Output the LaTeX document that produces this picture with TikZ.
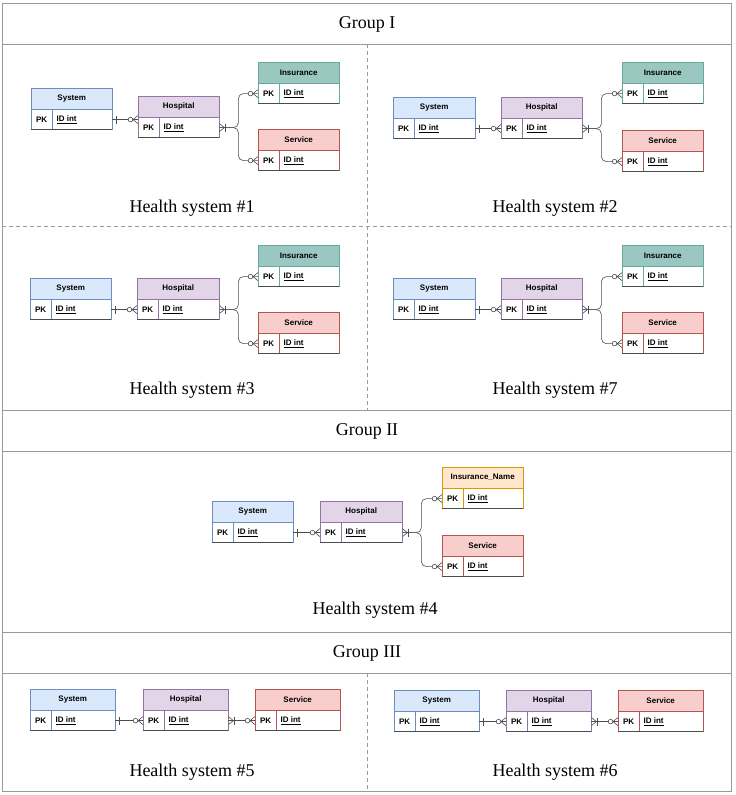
\documentclass[tikz,border=0pt]{standalone}
\usepackage{fontspec}
\setmainfont{Liberation Serif}
\newfontfamily\erfont{Liberation Sans}
\usetikzlibrary{calc}

\definecolor{sysF}{HTML}{DAE8FC}\definecolor{sysD}{HTML}{6C8EBF}
\definecolor{hosF}{HTML}{E1D5E7}\definecolor{hosD}{HTML}{9673A6}
\definecolor{insF}{HTML}{9AC7BF}\definecolor{insD}{HTML}{67AB9F}
\definecolor{srvF}{HTML}{F8CECC}\definecolor{srvD}{HTML}{B85450}
\definecolor{innF}{HTML}{FFE6CC}\definecolor{innD}{HTML}{D79B00}
\definecolor{gridc}{HTML}{9A9A9A}

\tikzset{
  erf/.style={font=\erfont\bfseries\fontsize{8}{9}\selectfont},
  ehead/.style={erf, draw, rectangle, minimum height=21pt, inner sep=0pt, anchor=north west},
  erow/.style={draw, fill=white, minimum height=20pt, inner sep=0pt, anchor=north west},
  pkcell/.style={erf, minimum width=21pt, minimum height=20pt, inner sep=0pt, anchor=west},
  idcell/.style={erf, inner sep=0pt, anchor=west},
  rel/.style={draw=black!70, line width=0.6pt},
  grid/.style={draw=gridc, line width=1pt},
  dgrid/.style={draw=gridc, line width=0.8pt, dash pattern=on 4pt off 3pt},
  caption/.style={font=\fontsize{18}{20}\selectfont},
  pics/entity/.style n args={3}{code={
    \node[ehead, fill=#3F, draw=#3D, minimum width=#2pt] (-h) at (0,0) {#1};
    \node[erow, draw=#3D, minimum width=#2pt] (-r) at (-h.south west) {};
    \node[pkcell] (-pk) at (-r.west) {PK};
    \node[idcell, xshift=4pt] (-id) at (-pk.east) {\underline{ID int}};
    \draw[draw=#3D] (-pk.north east) -- (-pk.south east);
    \draw[gray!60!black, line width=0.8pt] (-r.south west) -- (-r.south east);
  }},
  pics/one/.style={code={\draw[rel] (-4,-4) -- (-4,4);}},
  pics/zmany/.style={code={
    \draw[rel] (0,-4) -- (-5,0) -- (0,4);
    \draw[rel, fill=white] (-7.5,0) circle (2.3pt);
  }},
  pics/omany/.style={code={
    \draw[rel] (0,-4) -- (-5,0) -- (0,4);
    \draw[rel] (-6,-4) -- (-6,4);
  }}
}

\begin{document}
\begin{tikzpicture}[x=1pt, y=-1pt]
\useasboundingbox (0,0) rectangle (736,795);

% table
\draw[grid] (2,3) rectangle (731,791);
\draw[grid] (2,44) -- (731,44);
\draw[grid] (2,410) -- (731,410);
\draw[grid] (2,451) -- (731,451);
\draw[grid] (2,632) -- (731,632);
\draw[grid] (2,673) -- (731,673);
\draw[dgrid] (2,226) -- (731,226);
\draw[dgrid] (367,44) -- (367,410);
\draw[dgrid] (367,673) -- (367,791);

\node[caption] (g1) at (367,24) {Group I};
\node[caption] (g2) at (367,431) {Group II};
\node[caption] (g3) at (367,653) {Group III};

% health system 1
\pic (s1) at (31,88) {entity={System}{81}{sys}};
\pic (h1) at (138,96) {entity={Hospital}{81}{hos}};
\pic (i1) at (258,62) {entity={Insurance}{81}{ins}};
\pic (sv1) at (258,129) {entity={Service}{81}{srv}};
\node[caption] (c1) at (192,208) {Health system \#1};

% health system 2
\pic (s2) at (393,97) {entity={System}{82}{sys}};
\pic (h2) at (501,97) {entity={Hospital}{81}{hos}};
\pic (i2) at (622,62) {entity={Insurance}{81}{ins}};
\pic (sv2) at (622,130) {entity={Service}{81}{srv}};
\node[caption] (c2) at (555,208) {Health system \#2};

% health system 3
\pic (s3) at (30,278) {entity={System}{81}{sys}};
\pic (h3) at (137,278) {entity={Hospital}{82}{hos}};
\pic (i3) at (258,245) {entity={Insurance}{81}{ins}};
\pic (sv3) at (258,312) {entity={Service}{81}{srv}};
\node[caption] (c3) at (192,390) {Health system \#3};

% health system 7
\pic (s7) at (393,278) {entity={System}{82}{sys}};
\pic (h7) at (501,278) {entity={Hospital}{81}{hos}};
\pic (i7) at (622,245) {entity={Insurance}{81}{ins}};
\pic (sv7) at (622,312) {entity={Service}{81}{srv}};
\node[caption] (c7) at (555,390) {Health system \#7};

% health system 4
\pic (s4) at (212,501) {entity={System}{81}{sys}};
\pic (h4) at (320,501) {entity={Hospital}{82}{hos}};
\pic (i4) at (442,467) {entity={Insurance\_Name}{81}{inn}};
\pic (sv4) at (442,535) {entity={Service}{81}{srv}};
\node[caption] (c4) at (375,610) {Health system \#4};

% health system 5 and 6
\pic (s5) at (30,689) {entity={System}{85}{sys}};
\pic (h5) at (143,689) {entity={Hospital}{85}{hos}};
\pic (sv5) at (255,689) {entity={Service}{85}{srv}};
\node[caption] (c5) at (192,772) {Health system \#5};

\pic (s6) at (394,690) {entity={System}{85}{sys}};
\pic (h6) at (506,690) {entity={Hospital}{85}{hos}};
\pic (sv6) at (618,690) {entity={Service}{85}{srv}};
\node[caption] (c6) at (555,772) {Health system \#6};

\begin{scope}[rel]
\draw (s1-r.east) -- (s1-r.east -| h1-r.west);
\coordinate (h1-j) at ([xshift=19pt]h1-r.east);
\draw[rounded corners=5pt] (h1-r.east) -- (h1-j) |- (i1-r.west);
\draw[rounded corners=5pt] (h1-r.east) -- (h1-j) |- (sv1-r.west);
\pic[rotate=180] at (s1-r.east) {one};
\pic at (s1-r.east -| h1-r.west) {zmany};
\pic[rotate=180] at (h1-r.east) {omany};
\pic at (i1-r.west) {zmany};
\pic at (sv1-r.west) {zmany};

\draw (s2-r.east) -- (h2-r.west);
\coordinate (h2-j) at ([xshift=19pt]h2-r.east);
\draw[rounded corners=5pt] (h2-r.east) -- (h2-j) |- (i2-r.west);
\draw[rounded corners=5pt] (h2-r.east) -- (h2-j) |- (sv2-r.west);
\pic[rotate=180] at (s2-r.east) {one};
\pic at (h2-r.west) {zmany};
\pic[rotate=180] at (h2-r.east) {omany};
\pic at (i2-r.west) {zmany};
\pic at (sv2-r.west) {zmany};

\draw (s3-r.east) -- (h3-r.west);
\coordinate (h3-j) at ([xshift=19pt]h3-r.east);
\draw[rounded corners=5pt] (h3-r.east) -- (h3-j) |- (i3-r.west);
\draw[rounded corners=5pt] (h3-r.east) -- (h3-j) |- (sv3-r.west);
\pic[rotate=180] at (s3-r.east) {one};
\pic at (h3-r.west) {zmany};
\pic[rotate=180] at (h3-r.east) {omany};
\pic at (i3-r.west) {zmany};
\pic at (sv3-r.west) {zmany};

\draw (s7-r.east) -- (h7-r.west);
\coordinate (h7-j) at ([xshift=19pt]h7-r.east);
\draw[rounded corners=5pt] (h7-r.east) -- (h7-j) |- (i7-r.west);
\draw[rounded corners=5pt] (h7-r.east) -- (h7-j) |- (sv7-r.west);
\pic[rotate=180] at (s7-r.east) {one};
\pic at (h7-r.west) {zmany};
\pic[rotate=180] at (h7-r.east) {omany};
\pic at (i7-r.west) {zmany};
\pic at (sv7-r.west) {zmany};

\draw (s4-r.east) -- (h4-r.west);
\coordinate (h4-j) at ([xshift=19pt]h4-r.east);
\draw[rounded corners=5pt] (h4-r.east) -- (h4-j) |- (i4-r.west);
\draw[rounded corners=5pt] (h4-r.east) -- (h4-j) |- (sv4-r.west);
\pic[rotate=180] at (s4-r.east) {one};
\pic at (h4-r.west) {zmany};
\pic[rotate=180] at (h4-r.east) {omany};
\pic at (i4-r.west) {zmany};
\pic at (sv4-r.west) {zmany};

\draw (s5-r.east) -- (h5-r.west);
\draw (h5-r.east) -- (sv5-r.west);
\pic[rotate=180] at (s5-r.east) {one};
\pic at (h5-r.west) {zmany};
\pic[rotate=180] at (h5-r.east) {omany};
\pic at (sv5-r.west) {zmany};

\draw (s6-r.east) -- (h6-r.west);
\draw (h6-r.east) -- (sv6-r.west);
\pic[rotate=180] at (s6-r.east) {one};
\pic at (h6-r.west) {zmany};
\pic[rotate=180] at (h6-r.east) {omany};
\pic at (sv6-r.west) {zmany};
\end{scope}
\end{tikzpicture}
\end{document}
